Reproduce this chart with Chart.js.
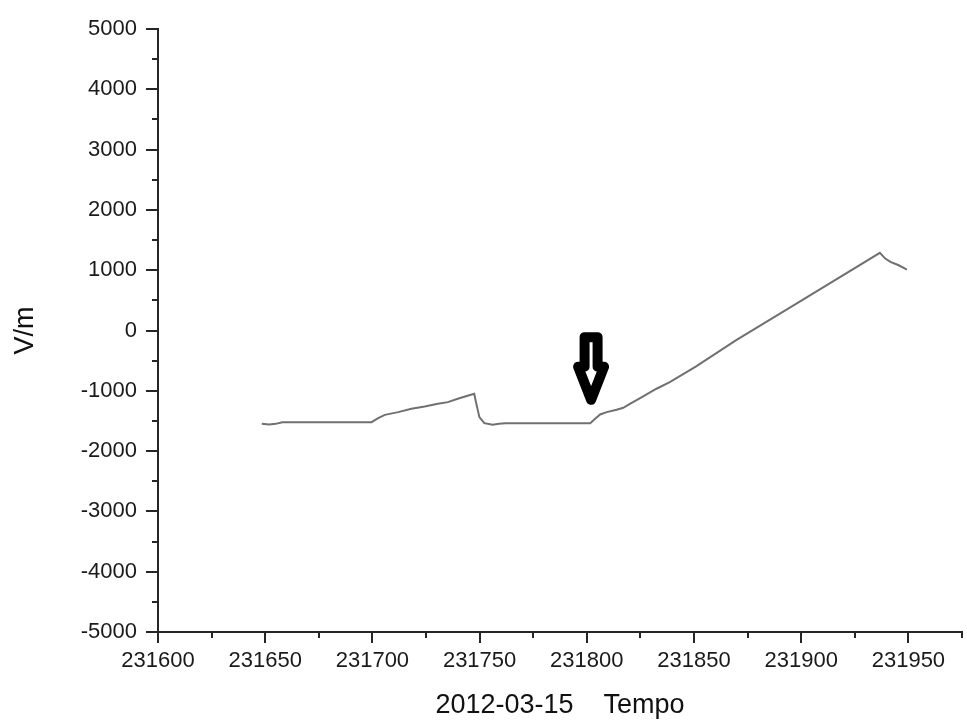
<!DOCTYPE html>
<html>
<head>
<meta charset="utf-8">
<script src="https://cdn.jsdelivr.net/npm/chart.js@4.4.1/dist/chart.umd.min.js"></script>
<style>
    body { margin: 0; background: #fff; }
    #wrap { width: 967px; height: 722px; }
</style>
</head>
<body>
<div id="wrap"><canvas id="fieldChart" width="967" height="722"></canvas></div>
<script>
// time axis (Tempo) and field values (V/m)
var times = [231648.4, 231651.8, 231654.9, 231658.0, 231674.9, 231691.9, 231699.6, 231702.7,
    231705.8, 231712.0, 231718.2, 231724.4, 231730.5, 231735.2, 231739.8, 231744.4, 231747.5,
    231748.3, 231749.9, 231752.2, 231756.1, 231759.1, 231762.0, 231780.0, 231801.6, 231803.9,
    231806.2, 231809.3, 231813.9, 231817.0, 231820.1, 231826.3, 231832.5, 231838.7, 231851.0,
    231869.5, 231897.0, 231936.7, 231939.2, 231941.6, 231945.5, 231949.3];
var values = [-1548, -1560, -1548, -1520, -1520, -1520, -1520, -1454,
    -1399, -1354, -1299, -1260, -1216, -1188, -1133, -1083, -1050,
    -1188, -1437, -1537, -1564, -1548, -1540, -1538, -1537, -1465,
    -1393, -1354, -1315, -1282, -1216, -1094, -966, -855, -595,
    -163, 430, 1287, 1193, 1138, 1082, 1011];

var xMin = 231600, xMax = 231975, xStep = 25, xLabelEvery = 50;
var yMin = -5000, yMax = 5000, yStep = 500, yLabelEvery = 1000;

// marker arrow pointing at the onset (in data units)
var arrowX = 231802, arrowFrom = -110, arrowNeck = -600, arrowTo = -1150;

var axisColor = '#262626';
var fontFamily = '"Liberation Sans", Arial, sans-serif';

var tickMarks = {
    id: 'tickMarks',
    afterDraw: function (chart) {
        var ctx = chart.ctx;
        var area = chart.chartArea;
        var xs = chart.scales.x;
        var ys = chart.scales.y;
        ctx.save();
        ctx.strokeStyle = axisColor;
        ctx.lineWidth = 2;
        ctx.beginPath();
        xs.ticks.forEach(function (t) {
            var px = Math.round(xs.getPixelForValue(t.value));
            var len = (t.value % xLabelEvery === 0) ? 11 : 6;
            ctx.moveTo(px, area.bottom);
            ctx.lineTo(px, area.bottom + len);
        });
        ys.ticks.forEach(function (t) {
            var py = Math.round(ys.getPixelForValue(t.value));
            var len = (t.value % yLabelEvery === 0) ? 12 : 6;
            ctx.moveTo(area.left, py);
            ctx.lineTo(area.left - len, py);
        });
        ctx.stroke();

        // the arrow: white body, heavy black outline
        var cx = xs.getPixelForValue(arrowX);
        var top = ys.getPixelForValue(arrowFrom);
        var neck = ys.getPixelForValue(arrowNeck);
        var tip = ys.getPixelForValue(arrowTo);
        ctx.beginPath();
        ctx.moveTo(cx - 6.5, top);
        ctx.lineTo(cx + 6.5, top);
        ctx.lineTo(cx + 6.5, neck);
        ctx.lineTo(cx + 13, neck);
        ctx.lineTo(cx, tip);
        ctx.lineTo(cx - 13, neck);
        ctx.lineTo(cx - 6.5, neck);
        ctx.closePath();
        ctx.fillStyle = '#fff';
        ctx.fill();
        ctx.lineJoin = 'round';
        ctx.lineWidth = 10;
        ctx.strokeStyle = '#000';
        ctx.stroke();
        ctx.restore();
    }
};

function initLineChart(points) {
    var canvas = document.getElementById("fieldChart");
    var ctx = canvas.getContext('2d');

    var data = {
        datasets: [{
            data: points,
            borderColor: '#707070',
            borderWidth: 2,
            pointRadius: 0,
            tension: 0,
            fill: false
        }]
    };

    var options = {
        responsive: false,
        animation: false,
        layout: { padding: { top: 29, right: 0, left: 0, bottom: 0 } },
        plugins: {
            legend: { display: false },
            tooltip: { enabled: false }
        },
        scales: {
            x: {
                type: 'linear',
                min: xMin,
                max: xMax,
                afterFit: function (scale) { scale.height = 90; },
                border: { color: axisColor, width: 2 },
                grid: { drawOnChartArea: false, drawTicks: true, tickLength: 11, tickColor: 'rgba(0,0,0,0)' },
                ticks: {
                    stepSize: xStep,
                    autoSkip: false,
                    maxRotation: 0,
                    padding: 5,
                    color: '#1a1a1a',
                    font: { family: fontFamily, size: 22 },
                    callback: function (v) { return v % xLabelEvery === 0 ? String(v) : ''; }
                },
                title: {
                    display: true,
                    text: '2012-03-15    Tempo',
                    color: '#111',
                    font: { family: fontFamily, size: 27 },
                    padding: { top: 0, bottom: 0 }
                }
            },
            y: {
                min: yMin,
                max: yMax,
                afterFit: function (scale) { scale.width = 158; },
                border: { color: axisColor, width: 2 },
                grid: { drawOnChartArea: false, drawTicks: true, tickLength: 11, tickColor: 'rgba(0,0,0,0)' },
                ticks: {
                    stepSize: yStep,
                    autoSkip: false,
                    padding: 10,
                    color: '#1a1a1a',
                    font: { family: fontFamily, size: 22 },
                    callback: function (v) { return v % yLabelEvery === 0 ? String(v) : ''; }
                },
                title: {
                    display: true,
                    text: 'V/m',
                    color: '#111',
                    font: { family: fontFamily, size: 27 },
                    padding: { top: 9, bottom: 0 }
                }
            }
        }
    };

    var myLineChart = new Chart(ctx, {
        type: 'line',
        data: data,
        options: options,
        plugins: [tickMarks]
    });
}

var points = [];
for (var i = 0; i < times.length; i++) {
    points.push({ x: times[i], y: values[i] });
}
initLineChart(points);
</script>
</body>
</html>
